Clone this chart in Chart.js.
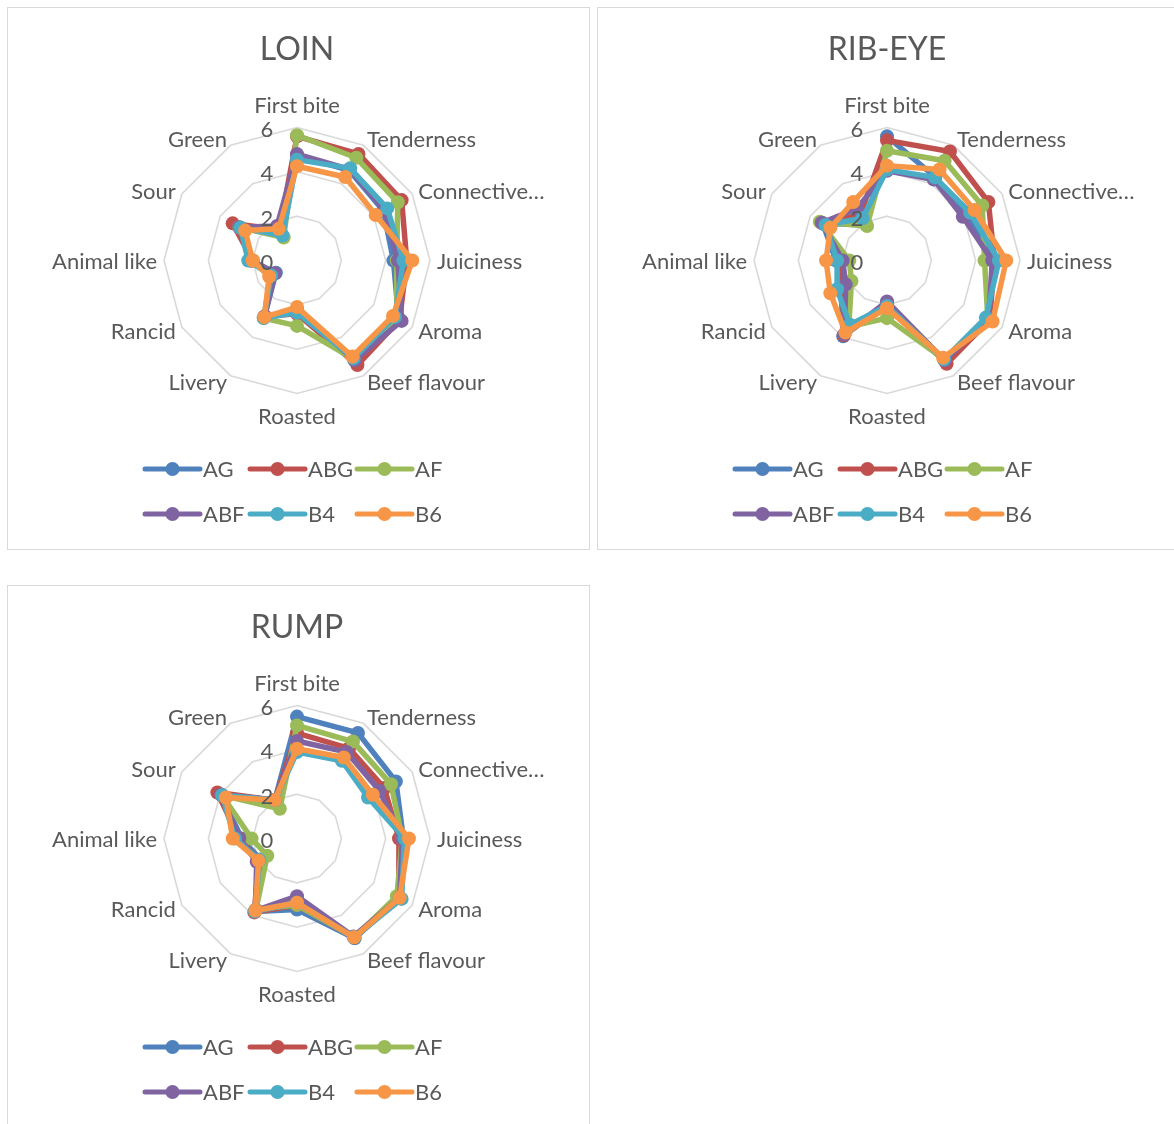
<!DOCTYPE html>
<html>
<head>
<meta charset="utf-8">
<script src="https://cdn.jsdelivr.net/npm/chart.js@4.4.1/dist/chart.umd.min.js"></script>
<style>
  html, body { margin: 0; padding: 0; background: #fff; width: 1174px; height: 1124px; overflow: hidden; }
  .panel { position: absolute; width: 583px; height: 543px; box-shadow: inset 0 0 0 1px #d9d9d9; background: #fff; }
  .panel canvas { position: absolute; left: 0; top: 0; }
</style>
</head>
<body>
<div class="panel" style="left:7px;top:7px"><canvas id="loin" width="583" height="543"></canvas></div>
<div class="panel" style="left:597px;top:7px"><canvas id="ribeye" width="583" height="543"></canvas></div>
<div class="panel" style="left:7px;top:585px"><canvas id="rump" width="583" height="543"></canvas></div>
<script>
// Sensory attributes (radar axes), panel treatments and score ticks
const attributes = ['First bite', 'Tenderness', 'Connective…', 'Juiciness', 'Aroma', 'Beef flavour',
                    'Roasted', 'Livery', 'Rancid', 'Animal like', 'Sour', 'Green'];
const treatments = ['AG', 'ABG', 'AF', 'ABF', 'B4', 'B6'];
const treatmentColours = ['#4F81BD', '#C0504D', '#9BBB59', '#8064A2', '#4BACC6', '#F79646'];
const scoreTicks = [0, 2, 4, 6];

// LOIN scores, in attribute order
const loinAG  = [4.75, 4.70, 4.50, 4.35, 5.30, 5.20, 2.30, 2.95, 1.10, 2.10, 2.90, 1.50];
const loinABG = [5.60, 5.55, 5.45, 4.95, 5.35, 5.45, 2.40, 2.90, 1.30, 2.00, 3.35, 1.60];
const loinAF  = [5.65, 5.35, 5.25, 4.50, 5.20, 5.15, 2.95, 3.00, 1.30, 2.00, 3.00, 1.20];
const loinABF = [4.80, 4.75, 4.55, 4.55, 5.45, 5.20, 2.20, 2.95, 1.15, 2.05, 3.00, 1.80];
const loinB4  = [4.55, 4.80, 4.70, 4.80, 5.10, 5.10, 2.35, 3.00, 1.35, 2.20, 2.95, 1.30];
const loinB6  = [4.25, 4.35, 4.10, 5.20, 5.00, 5.00, 2.10, 2.95, 1.45, 2.00, 2.70, 1.65];

// RIB-EYE scores
const ribeyeAG  = [5.60, 4.35, 4.10, 4.80, 5.30, 5.20, 1.90, 3.95, 2.40, 2.30, 3.35, 1.85];
const ribeyeABG = [5.42, 5.68, 5.28, 4.85, 5.35, 5.38, 2.00, 3.90, 2.30, 2.10, 3.30, 2.40];
const ribeyeAF  = [4.95, 5.20, 4.96, 4.40, 5.25, 5.15, 2.60, 3.45, 1.85, 1.70, 3.50, 1.80];
const ribeyeABF = [4.05, 4.22, 3.95, 4.75, 5.30, 5.20, 1.85, 3.85, 2.15, 2.00, 3.40, 2.70];
const ribeyeB4  = [4.10, 4.33, 4.33, 5.05, 5.15, 5.15, 2.05, 3.35, 2.60, 2.25, 3.20, 2.20];
const ribeyeB6  = [4.28, 4.74, 4.56, 5.38, 5.50, 5.06, 2.15, 3.75, 2.95, 2.75, 2.95, 3.05];

// RUMP scores
const rumpAG  = [5.50, 5.50, 5.15, 4.80, 5.35, 5.20, 3.20, 3.80, 1.90, 2.50, 3.95, 2.00];
const rumpABG = [4.75, 4.70, 4.55, 4.60, 5.30, 5.15, 3.00, 3.85, 2.00, 2.60, 4.15, 2.00];
const rumpAF  = [5.10, 5.05, 4.90, 4.75, 5.20, 5.15, 3.00, 3.70, 1.55, 2.05, 3.90, 1.55];
const rumpABF = [4.40, 4.50, 4.30, 4.75, 5.35, 5.10, 2.60, 3.75, 2.10, 2.60, 3.95, 2.00];
const rumpB4  = [3.90, 4.05, 3.70, 4.85, 5.45, 5.15, 2.90, 3.80, 1.95, 2.80, 3.90, 2.00];
const rumpB6  = [4.05, 4.22, 3.95, 5.05, 5.35, 5.15, 2.90, 3.75, 2.00, 2.90, 3.70, 2.00];

const FONT = 'Lato, "Open Sans", "DejaVu Sans", sans-serif';
const TEXT_COLOUR = '#595959';
const CENTRE = { x: 290, y: 253.5 };
const RADIUS = 133;

// Titles, tick values, axis names and the two-row legend are painted over the plot
const annotations = {
  id: 'annotations',
  afterDraw(chart, args, opts) {
    const ctx = chart.ctx;
    const r = chart.scales.r;
    ctx.save();
    ctx.fillStyle = TEXT_COLOUR;
    ctx.textBaseline = 'middle';

    ctx.font = '32px ' + FONT;
    ctx.textAlign = 'center';
    ctx.fillText(opts.title, r.xCenter, 43);

    ctx.font = '22px ' + FONT;
    scoreTicks.forEach(v => {
      const d = r.getDistanceFromCenterForValue(v);
      ctx.fillText(String(v), r.xCenter - 30, r.yCenter - d + 2.5);
    });

    const labelRadius = r.drawingArea + 7;
    chart.data.labels.forEach((label, i) => {
      const p = r.getPointPosition(i, labelRadius);
      const dx = p.x - r.xCenter;
      let y = p.y + 1;
      let align;
      if (Math.abs(dx) < 1) {
        align = 'center';
        y += p.y < r.yCenter ? -15.5 : 15.5;
      } else {
        align = dx > 0 ? 'left' : 'right';
      }
      ctx.textAlign = align;
      ctx.fillText(label, p.x, y);
    });

    // legend: three entries per row
    const colX = [-152, -47, 60];
    const rowY = [462, 507];
    ctx.textAlign = 'left';
    chart.data.datasets.forEach((ds, i) => {
      const x0 = r.xCenter + colX[i % 3];
      const y0 = rowY[Math.floor(i / 3)];
      ctx.strokeStyle = ds.borderColor;
      ctx.lineWidth = 5;
      ctx.lineCap = 'round';
      ctx.beginPath();
      ctx.moveTo(x0, y0);
      ctx.lineTo(x0 + 55, y0);
      ctx.stroke();
      ctx.fillStyle = ds.borderColor;
      ctx.beginPath();
      ctx.arc(x0 + 27.5, y0, 7, 0, Math.PI * 2);
      ctx.fill();
      ctx.fillStyle = TEXT_COLOUR;
      ctx.fillText(ds.label, x0 + 58, y0 + 1);
    });
    ctx.restore();
  }
};

function drawCut(canvasId, title, series) {
  new Chart(document.getElementById(canvasId), {
    type: 'radar',
    data: {
      labels: attributes,
      datasets: treatments.map((name, i) => ({
        label: name,
        data: series[i],
        borderColor: treatmentColours[i],
        backgroundColor: treatmentColours[i],
        pointBackgroundColor: treatmentColours[i],
        pointBorderColor: treatmentColours[i],
        pointBorderWidth: 0,
        pointRadius: 7,
        borderWidth: 5.5,
        borderJoinStyle: 'round',
        fill: false,
        order: treatments.length - i
      }))
    },
    options: {
      responsive: false,
      animation: false,
      events: [],
      plugins: {
        legend: { display: false },
        tooltip: { enabled: false },
        annotations: { title: title }
      },
      scales: {
        r: {
          min: 0,
          max: 6,
          ticks: { stepSize: 2, display: false },
          grid: { color: '#d9d9d9', lineWidth: 1.6 },
          angleLines: { display: false },
          pointLabels: { display: false },
          afterFit(scale) {
            scale.xCenter = CENTRE.x;
            scale.yCenter = CENTRE.y;
            scale.drawingArea = RADIUS;
          }
        }
      }
    },
    plugins: [annotations]
  });
}

drawCut('loin', 'LOIN', [loinAG, loinABG, loinAF, loinABF, loinB4, loinB6]);
drawCut('ribeye', 'RIB-EYE', [ribeyeAG, ribeyeABG, ribeyeAF, ribeyeABF, ribeyeB4, ribeyeB6]);
drawCut('rump', 'RUMP', [rumpAG, rumpABG, rumpAF, rumpABF, rumpB4, rumpB6]);
</script>
</body>
</html>
